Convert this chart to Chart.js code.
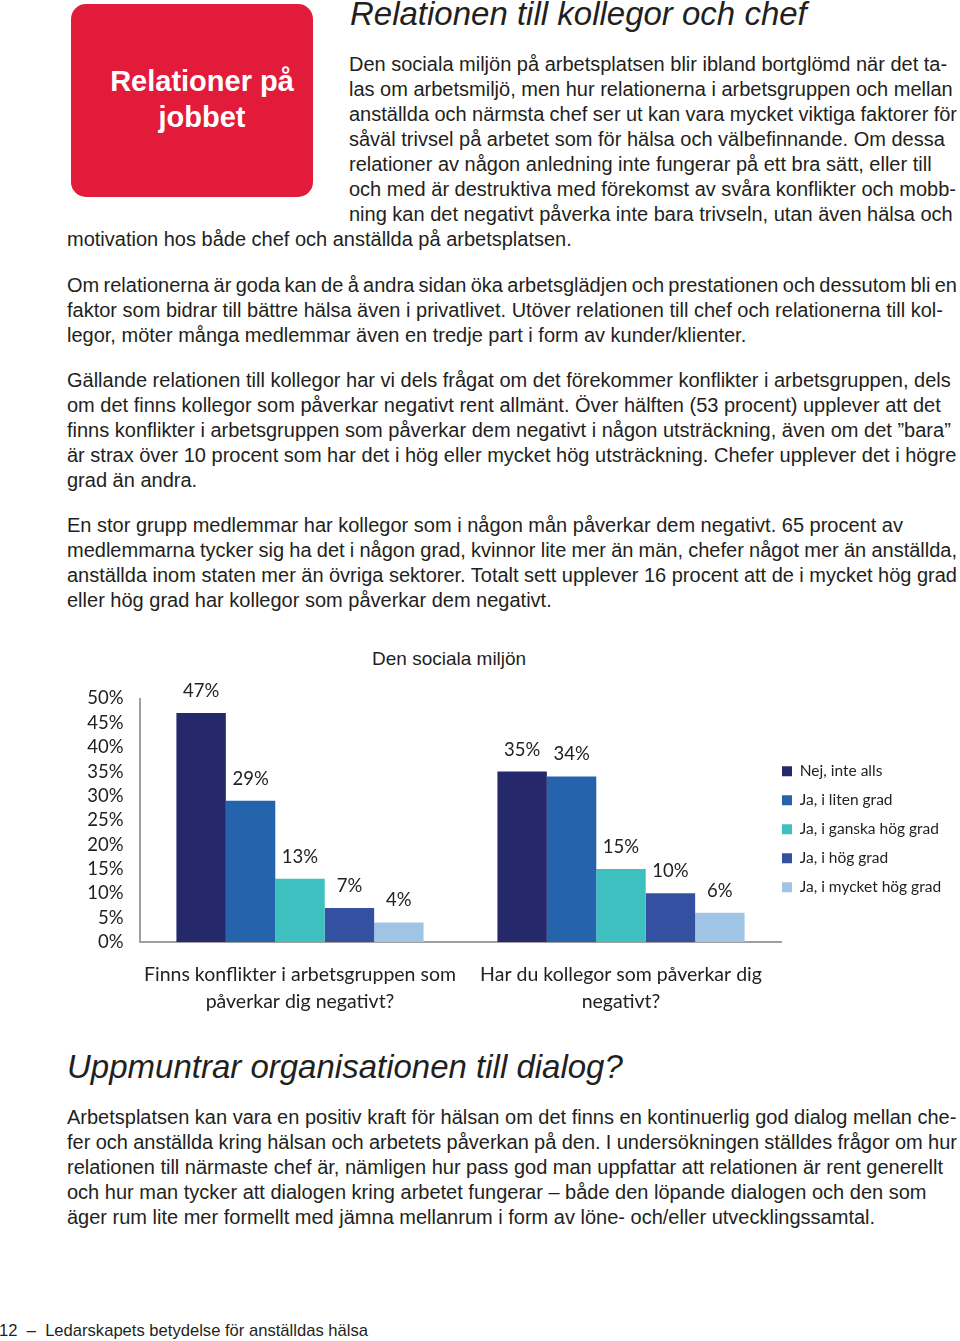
<!DOCTYPE html>
<html lang="sv">
<head>
<meta charset="utf-8">
<title>Relationer på jobbet</title>
<script src="https://cdn.jsdelivr.net/npm/chart.js@4.4.1/dist/chart.umd.min.js"></script>
<style>
  html, body { margin: 0; padding: 0; background: #fff; }
  body { position: relative; width: 960px; height: 1341px; overflow: hidden;
         font-family: "Liberation Sans", Helvetica, Arial, sans-serif; color: #231f20; }
  .abs { position: absolute; white-space: nowrap; }
  .txt { font-size: 20px; line-height: 25px; }
  .txt span { display: block; width: max-content; }
  .head { font-size: 33px; line-height: 33px; font-style: italic; }
  .box { position: absolute; left: 71px; top: 4px; width: 242px; height: 193px;
         background: #e21b3b; border-radius: 15px; }
  .boxtxt { position: absolute; left: 81px; width: 242px; top: 63px; text-align: center;
            color: #fff; font-weight: bold; font-size: 29px; line-height: 36px; }
  .ctitle { font-size: 19px; line-height: 19px; }
  .foot { font-size: 16.6px; line-height: 17px; }
  #wrap { position: absolute; left: 60px; top: 640px; width: 900px; height: 380px; }
</style>
</head>
<body>

<div class="box"></div>
<div class="boxtxt">Relationer på<br>jobbet</div>

<div class="abs head" style="left:350px; top:-3px;">Relationen till kollegor och chef</div>

<div class="abs txt" style="left:349px; top:52px;">
<span>Den sociala miljön på arbetsplatsen blir ibland bortglömd när det ta-</span>
<span>las om arbetsmiljö, men hur relationerna i arbetsgruppen och mellan</span>
<span>anställda och närmsta chef ser ut kan vara mycket viktiga faktorer för</span>
<span>såväl trivsel på arbetet som för hälsa och välbefinnande. Om dessa</span>
<span>relationer av någon anledning inte fungerar på ett bra sätt, eller till</span>
<span>och med är destruktiva med förekomst av svåra konflikter och mobb-</span>
<span>ning kan det negativt påverka inte bara trivseln, utan även hälsa och</span>
</div>
<div class="abs txt" style="left:67px; top:227px;"><span>motivation hos både chef och anställda på arbetsplatsen.</span></div>

<div class="abs txt" style="left:67px; top:273px;">
<span>Om relationerna är goda kan de å andra sidan öka arbetsglädjen och prestationen och dessutom bli en</span>
<span>faktor som bidrar till bättre hälsa även i privatlivet. Utöver relationen till chef och relationerna till kol-</span>
<span>legor, möter många medlemmar även en tredje part i form av kunder/klienter.</span>
</div>

<div class="abs txt" style="left:67px; top:368px;">
<span>Gällande relationen till kollegor har vi dels frågat om det förekommer konflikter i arbetsgruppen, dels</span>
<span>om det finns kollegor som påverkar negativt rent allmänt. Över hälften (53 procent) upplever att det</span>
<span>finns konflikter i arbetsgruppen som påverkar dem negativt i någon utsträckning, även om det ”bara”</span>
<span>är strax över 10 procent som har det i hög eller mycket hög utsträckning. Chefer upplever det i högre</span>
<span>grad än andra.</span>
</div>

<div class="abs txt" style="left:67px; top:513px;">
<span>En stor grupp medlemmar har kollegor som i någon mån påverkar dem negativt. 65 procent av</span>
<span>medlemmarna tycker sig ha det i någon grad, kvinnor lite mer än män, chefer något mer än anställda,</span>
<span>anställda inom staten mer än övriga sektorer. Totalt sett upplever 16 procent att de i mycket hög grad</span>
<span>eller hög grad har kollegor som påverkar dem negativt.</span>
</div>

<div class="abs ctitle" style="left:372px; top:649px;">Den sociala miljön</div>

<div id="wrap"><canvas id="socialChart" width="900" height="380"></canvas></div>

<div class="abs head" style="left:67px; top:1050px;">Uppmuntrar organisationen till dialog?</div>

<div class="abs txt" style="left:67px; top:1105px;">
<span>Arbetsplatsen kan vara en positiv kraft för hälsan om det finns en kontinuerlig god dialog mellan che-</span>
<span>fer och anställda kring hälsan och arbetets påverkan på den. I undersökningen ställdes frågor om hur</span>
<span>relationen till närmaste chef är, nämligen hur pass god man uppfattar att relationen är rent generellt</span>
<span>och hur man tycker att dialogen kring arbetet fungerar – både den löpande dialogen och den som</span>
<span>äger rum lite mer formellt med jämna mellanrum i form av löne- och/eller utvecklingssamtal.</span>
</div>

<div class="abs foot" style="left:-1px; top:1322px;">12 &nbsp;–&nbsp; Ledarskapets betydelse för anställdas hälsa</div>

<script>
// frågorna (x-axel)
const fragor = [
    ['Finns konflikter i arbetsgruppen som', 'påverkar dig negativt?'],
    ['Har du kollegor som påverkar dig', 'negativt?']
];
// svarsalternativ (serier)
const svar = ['Nej, inte alls', 'Ja, i liten grad', 'Ja, i ganska hög grad', 'Ja, i hög grad', 'Ja, i mycket hög grad'];
// procent per svar
const konflikter = [47, 29, 13, 7, 4];
const kollegor = [35, 34, 15, 10, 6];
// y-axel
const yMin = 0;
const yMax = 50;
const yStep = 5;

const farger = ['#25296b', '#2563ad', '#3ec0c0', '#3350a1', '#a0c4e6'];

// textrader som är för långa trycks ihop lite (ordmellanrum)
const textRight = 957;
document.querySelectorAll('.txt span').forEach(line => {
    const r = line.getBoundingClientRect();
    const over = r.right - textRight;
    const spaces = (line.textContent.match(/ /g) || []).length;
    if (over > 0 && spaces) line.style.wordSpacing = (-over / spaces) + 'px';
});

Chart.defaults.font.family = 'Lato, "Open Sans", sans-serif';
Chart.defaults.color = '#222';

// procentetiketter ovanför staplarna
const barLabels = {
    id: 'barLabels',
    afterDatasetsDraw(chart) {
        const ctx = chart.ctx;
        ctx.save();
        ctx.font = '18.5px Lato';
        ctx.fillStyle = '#222';
        ctx.textAlign = 'center';
        ctx.textBaseline = 'middle';
        chart.data.datasets.forEach((ds, i) => {
            chart.getDatasetMeta(i).data.forEach((bar, j) => {
                ctx.fillText(ds.data[j] + '%', bar.x, bar.y - 22);
            });
        });
        ctx.restore();
    }
};

// flytta legenden till rätt ställe
const legendNudge = {
    id: 'legendNudge',
    afterLayout(chart) {
        const lg = chart.legend;
        lg.left -= 13; lg.right -= 13;
        lg.top -= 30; lg.bottom -= 30;
    }
};

const datasets = svar.map((s, i) => ({
    label: s,
    data: [konflikter[i], kollegor[i]],
    backgroundColor: farger[i],
    borderWidth: 0,
    barPercentage: 1,
    categoryPercentage: 0.77
}));

const chartRight = 721.5; // i canvas-koordinater

const chart = new Chart(document.getElementById('socialChart'), {
    type: 'bar',
    data: { labels: fragor, datasets: datasets },
    plugins: [barLabels, legendNudge],
    options: {
        responsive: false,
        animation: false,
        layout: { padding: { top: 58.5, left: 0, right: 0, bottom: 0 } },
        plugins: {
            title: { display: false },
            tooltip: { enabled: false },
            legend: {
                position: 'right',
                maxWidth: 900 - chartRight,
                labels: {
                    boxWidth: 10,
                    boxHeight: 10,
                    padding: 13.5,
                    color: '#222',
                    font: { size: 15.5 }
                }
            }
        },
        scales: {
            x: {
                grid: { display: false, drawTicks: false, tickLength: 0 },
                border: { display: true, color: '#a0a0a0', width: 2 },
                ticks: { padding: 19, maxRotation: 0, autoSkip: false, color: '#222',
                         font: { size: 19.5, lineHeight: 1.385 } },
                afterFit(scale) { scale.height = 78; }
            },
            y: {
                min: yMin,
                max: yMax,
                grid: { display: false, drawTicks: false, tickLength: 0 },
                border: { display: true, color: '#a0a0a0', width: 2 },
                ticks: { stepSize: yStep, autoSkip: false, padding: 16, color: '#222',
                         font: { size: 18.5 }, callback: v => v + '%' },
                afterFit(scale) { scale.width = 79.5; }
            }
        }
    }
});

// justera högermarginalen så att ritytan slutar vid rätt x
const extra = 900 - chartRight - chart.legend.width;
if (extra > 0) {
    chart.options.layout.padding.right = extra;
    chart.update();
}
</script>
</body>
</html>
